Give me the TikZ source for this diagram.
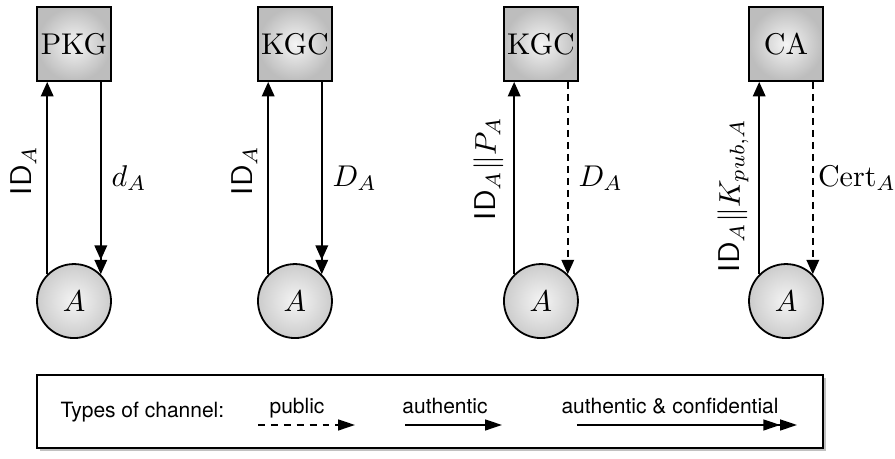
\documentclass[tikz,border=0pt]{standalone}
\usepackage{amsmath}
\usepackage{amssymb}
\usepackage{fontspec}
\newfontfamily\legendfont{TeX Gyre Heros}
\usetikzlibrary{arrows.meta,shadows}

\begin{document}
\begin{tikzpicture}[x=1cm,y=1cm,
  >={Triangle[length=4.8pt,width=4.2pt,sep=0pt]}]
\tikzstyle{every node}=[]
\tikzstyle{server}=[draw,line width=0.6pt,minimum size=0.867cm,inner sep=0pt,
  shading=radial,inner color=gray!8,outer color=gray!52]
\tikzstyle{user}=[server,circle,outer color=gray!40]
\tikzstyle{legendtext}=[font=\legendfont\fontsize{7}{8}\selectfont,inner sep=0pt]
\tikzstyle{legendtip}=[>={Triangle[length=5.6pt,width=3.6pt,sep=0pt]},line width=0.6pt]
\useasboundingbox (0,0) rectangle (10.486,5.366);
 \draw
 (0.867,4.850) node[server] (pkg)  {PKG}
 ++(2.589,0)   node[server] (kgc1) {KGC}
 ++(2.882,0)   node[server] (kgc2) {KGC}
 ++(2.871,0)   node[server] (ca)   {CA}
 ;
 \draw
 (0.867,1.839) node[user] (a1) {$A$}
 ++(2.589,0)   node[user] (a2) {$A$}
 ++(2.882,0)   node[user] (a3) {$A$}
 ++(2.871,0)   node[user] (a4) {$A$}
 ;
 % authentic
 \path[->,line width=0.5pt]
 (a1.135) edge node[pos=0.54,above,sloped] {$\textsf{ID}_A$} (a1.135 |- pkg.south)
 (a2.135) edge node[pos=0.54,above,sloped] {$\textsf{ID}_A$} (a2.135 |- kgc1.south)
 (a3.135) edge node[pos=0.55,above,sloped] {$\textsf{ID}_A\|P_A$} (a3.135 |- kgc2.south)
 (a4.135) edge node[pos=0.41,above,sloped] {$\textsf{ID}_A\|K_{pub,A}$} (a4.135 |- ca.south)
 ;
 % authentic & confidential
 \path[->>,line width=0.5pt]
 (a1.45 |- pkg.south)  edge node[midway,right] {$d_A$} (a1.45)
 (a2.45 |- kgc1.south) edge node[midway,right] {$D_A$} (a2.45)
 ;
 % public
 \path[->,line width=0.5pt,dash pattern=on 2.4pt off 1.6pt]
 (a3.45 |- kgc2.south) edge node[midway,right] {$D_A$} (a3.45)
 (a4.45 |- ca.south)   edge node[midway,right,inner sep=1.5pt] {$\mathrm{Cert}_A$} (a4.45)
 ;
 % legend
 \node[draw,line width=0.6pt,fill=white,
   drop shadow={shadow xshift=1pt,shadow yshift=-1pt,fill=gray!70,opacity=0.7},
   minimum width=9.21cm,minimum height=0.855cm] (legend) at (5.04,0.545) {};
 \node[legendtext,anchor=base west] (types) at (0.703,0.480) {Types of channel:};
 \node[legendtext,anchor=base] (pub)  at (3.480,0.527) {public};
 \node[legendtext,anchor=base] (auth) at (5.214,0.527) {authentic};
 \node[legendtext,anchor=base] (conf) at (7.850,0.527) {authentic \& confidential};
 \coordinate (p0) at (3.023,0.387); \coordinate (p1) at (4.159,0.387);
 \coordinate (q0) at (4.745,0.387); \coordinate (q1) at (5.881,0.387);
 \coordinate (r0) at (6.760,0.387); \coordinate (r1) at (9.338,0.387);
 \path[legendtip]
 (p0) edge[->,dash pattern=on 2.3pt off 2pt] (p1)
 (q0) edge[->] (q1)
 (r0) edge[->>] (r1)
 ;
\end{tikzpicture}
\end{document}
